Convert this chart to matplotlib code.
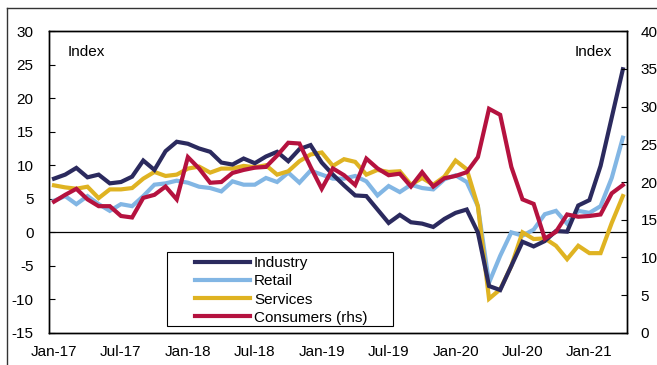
import matplotlib.pyplot as plt
from matplotlib.lines import Line2D
from matplotlib.patches import Rectangle
import pandas as pd

# monthly, Jan-17 .. Apr-21
months = pd.date_range("2017-01-01", "2021-04-01", freq="MS")

industry = [
    8.0, 8.6, 9.6, 8.2, 8.6, 7.3, 7.5, 8.3, 10.7, 9.3, 12.1, 13.5,
    13.2, 12.5, 12.0, 10.4, 10.1, 11.0, 10.3, 11.3, 12.0, 10.6, 12.4, 13.0,
    10.4, 8.6, 7.0, 5.5, 5.4, 3.4, 1.4, 2.6, 1.5, 1.3, 0.8, 2.0,
    2.9, 3.4, 0.0, -8.0, -8.6, -5.0, -1.4, -2.1, -1.3, 0.2, 0.1, 4.0,
    4.8, 9.9, 17.1, 24.3,
]
retail = [
    4.7, 5.4, 4.2, 5.4, 4.2, 3.2, 4.2, 3.9, 5.4, 7.1, 7.3, 7.7,
    7.4, 6.8, 6.6, 6.1, 7.6, 7.1, 7.1, 8.1, 7.5, 8.9, 7.4, 9.2,
    8.6, 8.0, 8.0, 8.4, 7.6, 5.5, 6.9, 6.0, 7.1, 6.6, 6.4, 7.9,
    8.5, 7.5, 3.9, -7.5, -3.5, 0.0, -0.5, 0.4, 2.7, 3.2, 1.3, 3.2,
    2.9, 3.9, 8.1, 14.1,
]
services = [
    7.0, 6.7, 6.5, 6.8, 5.1, 6.4, 6.4, 6.6, 8.0, 9.0, 8.4, 8.6,
    9.5, 9.8, 8.9, 9.5, 9.5, 9.9, 9.7, 10.0, 8.6, 9.1, 10.6, 11.6,
    11.9, 9.9, 10.9, 10.5, 8.6, 9.3, 9.0, 9.1, 7.1, 8.1, 7.1, 8.3,
    10.7, 9.4, 3.9, -9.9, -8.5, -5.0, 0.0, -1.0, -0.9, -2.0, -4.0, -2.0,
    -3.1, -3.1, 1.4, 5.4,
]
consumers = [
    17.4, 18.3, 19.1, 17.7, 16.8, 16.8, 15.5, 15.3, 17.9, 18.3, 19.4, 17.7,
    23.3, 21.8, 19.9, 20.0, 21.2, 21.6, 21.9, 22.0, 23.5, 25.2, 25.1, 22.0,
    19.1, 21.8, 20.9, 19.6, 23.1, 21.8, 20.9, 21.1, 19.4, 21.3, 19.4, 20.5,
    20.8, 21.3, 23.3, 29.7, 28.9, 22.0, 17.7, 17.1, 12.5, 13.4, 15.7, 15.4,
    15.5, 15.7, 18.5, 19.6,
]

tick_every = 6
tick_labels = [d.strftime("%b-%y") for d in months[::tick_every]]

colors = {
    "Industry": "#2b2a5e",
    "Retail": "#82b6e4",
    "Services": "#dfb322",
    "Consumers (rhs)": "#b5123f",
}

plt.rcParams["font.family"] = ["Liberation Sans", "DejaVu Sans"]
plt.rcParams["axes.unicode_minus"] = False

fig = plt.figure(figsize=(6.57, 3.65), dpi=100)
ax = fig.add_axes([0.0746, 0.0877, 0.8794, 0.8273])
ax2 = ax.twinx()

x = list(range(len(months)))

lw = 3.0
ax.plot(x, industry, color=colors["Industry"], lw=lw, label="Industry",
        solid_joinstyle="miter", zorder=3)
ax.plot(x, retail, color=colors["Retail"], lw=lw, label="Retail",
        solid_joinstyle="miter", zorder=2)
ax.plot(x, services, color=colors["Services"], lw=lw, label="Services",
        solid_joinstyle="miter", zorder=2)
ax2.plot(x, consumers, color=colors["Consumers (rhs)"], lw=lw,
         label="Consumers (rhs)", solid_joinstyle="miter")

ax.axhline(0, color="black", lw=0.9, zorder=1)

ax.set_xlim(-0.45, 51.35)
ax.set_ylim(-15, 30)
ax2.set_ylim(0, 40)
ax.set_yticks(range(-15, 31, 5))
ax2.set_yticks(range(0, 41, 5))

ax.set_xticks(x[::tick_every])
ax.set_xticklabels(tick_labels)
ax.tick_params(axis="x", length=0, pad=9, labelsize=11)
ax.tick_params(axis="y", direction="in", length=4, pad=11, labelsize=11)
ax2.tick_params(axis="y", direction="in", length=4, pad=10, labelsize=11)

for a in (ax, ax2):
    for s in a.spines.values():
        s.set_linewidth(1.0)
        s.set_color("black")

ax.text(0.033, 0.955, "Index", transform=ax.transAxes, fontsize=11, va="top")
ax.text(0.975, 0.955, "Index", transform=ax.transAxes, fontsize=11,
        va="top", ha="right")

# legend box, drawn separately so the padding can be uneven
ax2.add_patch(Rectangle((0.204, 0.023), 0.391, 0.245, transform=ax.transAxes,
                        facecolor="white", edgecolor="black", lw=0.8,
                        zorder=9))
h1, l1 = ax.get_legend_handles_labels()
h2, l2 = ax2.get_legend_handles_labels()
leg = ax2.legend(h1 + h2, l1 + l2, loc="upper left",
                 bbox_to_anchor=(0.2526, 0.255), fontsize=11, frameon=False,
                 handlelength=3.6, handletextpad=0.26, labelspacing=0.28,
                 borderpad=0, borderaxespad=0)
leg.set_zorder(10)

# outer frame of the original figure
fig.add_artist(Line2D([0.0107, 0.0107], [0.0, 0.978], color="#333333",
                      lw=1.0, transform=fig.transFigure))
fig.add_artist(Line2D([0.0107, 1.0], [0.978, 0.978], color="#333333",
                      lw=1.0, transform=fig.transFigure))

fig.savefig("out.png", dpi=100)
plt.close(fig)
